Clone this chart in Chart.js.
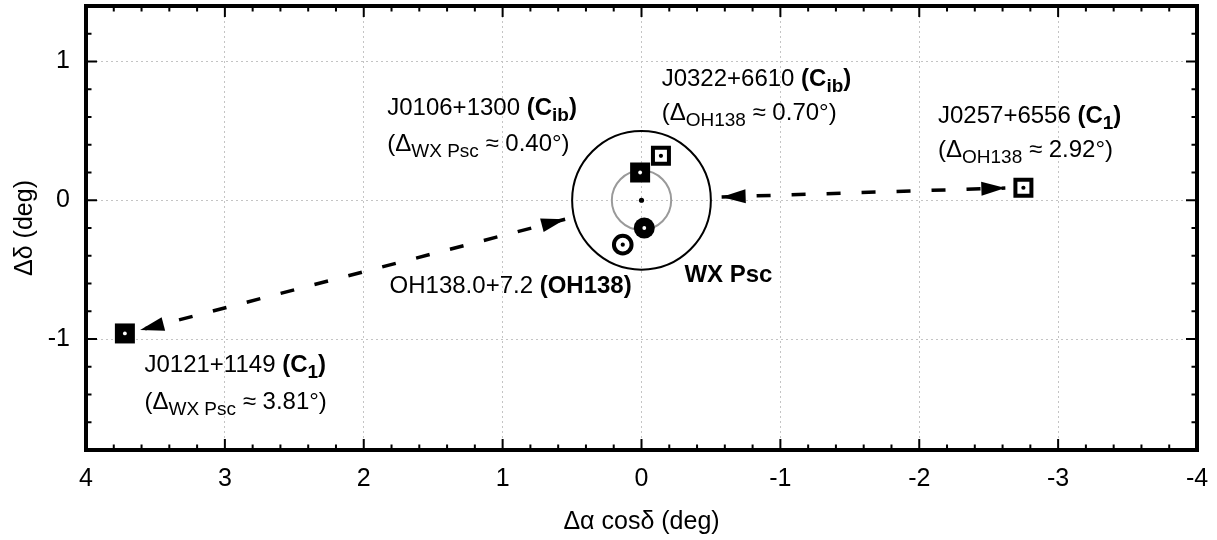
<!DOCTYPE html>
<html>
<head>
<meta charset="utf-8">
<script src="https://cdn.jsdelivr.net/npm/chart.js@4.4.1/dist/chart.umd.min.js"></script>
<style>
  html, body { margin: 0; padding: 0; background: #fff; }
  #wrap { width: 1217px; height: 540px; position: relative; }
</style>
</head>
<body>
<div id="wrap"><canvas id="chart"></canvas></div>
<script>
// ---- axis ticks ----
const xTicks = [4, 3, 2, 1, 0, -1, -2, -3, -4];
const yTicks = [1, 0, -1];

// ---- calibrators (squares) ----
const srcNames = ['J0121+1149', 'J0106+1300', 'J0322+6610', 'J0257+6556'];
const srcX = [3.72, 0.01, -0.14, -2.75];
const srcY = [-0.96, 0.20, 0.32, 0.09];
const srcFilled = [true, true, false, false];

// ---- targets (circles) ----
const tgtNames = ['WX Psc', 'OH138.0+7.2'];
const tgtX = [-0.02, 0.135];
const tgtY = [-0.20, -0.32];
const tgtFilled = [true, false];

// ---- pointing centre and beam circles ----
const centreX = [0];
const centreY = [0];
const circleRadii = [0.5, 0.214];

// ---- double arrows (tip to tip) ----
const arrowFromX = [0.55, -0.577];
const arrowFromY = [-0.137, 0.024];
const arrowToX = [3.61, -2.62];
const arrowToY = [-0.935, 0.088];

const FONT = '"Liberation Sans", Arial, sans-serif';

function pts(xs, ys, keep) {
  return xs.map((x, i) => ({ x, y: ys[i] })).filter((_, i) => keep ? keep(i) : true);
}

// text annotations: each line is a list of [text, style]; b = bold, s = subscript
const notes = [
  { x: 1.831, y: 0.617, segs: [['J0106+1300 ', ''], ['(C', 'b'], ['ib', 'bs'], [')', 'b']] },
  { x: 1.831, y: 0.356, segs: [['(\u0394', ''], ['WX Psc', 's'], [' \u2248 0.40\u00b0)', '']] },
  { x: -0.145, y: 0.827, segs: [['J0322+6610 ', ''], ['(C', 'b'], ['ib', 'bs'], [')', 'b']] },
  { x: -0.145, y: 0.576, segs: [['(\u0394', ''], ['OH138', 's'], [' \u2248 0.70\u00b0)', '']] },
  { x: -2.135, y: 0.556, segs: [['J0257+6556 ', ''], ['(C', 'b'], ['1', 'bs'], [')', 'b']] },
  { x: -2.135, y: 0.312, segs: [['(\u0394', ''], ['OH138', 's'], [' \u2248 2.92\u00b0)', '']] },
  { x: 1.814, y: -0.671, segs: [['OH138.0+7.2 ', ''], ['(OH138)', 'b']] },
  { x: -0.309, y: -0.592, segs: [['WX Psc', 'b']] },
  { x: 3.579, y: -1.235, segs: [['J0121+1149 ', ''], ['(C', 'b'], ['1', 'bs'], [')', 'b']] },
  { x: 3.579, y: -1.504, segs: [['(\u0394', ''], ['WX Psc', 's'], [' \u2248 3.81\u00b0)', '']] },
];

function richText(ctx, x, y, segs) {
  ctx.textAlign = 'left';
  ctx.textBaseline = 'alphabetic';
  segs.forEach(([t, st]) => {
    const bold = st.includes('b'), sub = st.includes('s');
    ctx.font = (bold ? 'bold ' : '') + (sub ? 19 : 24) + 'px ' + FONT;
    ctx.fillText(t, x, y + (sub ? 6 : 0));
    x += ctx.measureText(t).width;
  });
}

function arrowHead(ctx, tx, ty, fx, fy) {
  const a = Math.atan2(ty - fy, tx - fx);
  const L = 24, W = 7;
  const bx = tx - L * Math.cos(a), by = ty - L * Math.sin(a);
  ctx.beginPath();
  ctx.moveTo(tx, ty);
  ctx.lineTo(bx + W * Math.sin(a), by - W * Math.cos(a));
  ctx.lineTo(bx - W * Math.sin(a), by + W * Math.cos(a));
  ctx.closePath();
  ctx.fill();
}

const decor = {
  id: 'decor',
  beforeDatasetsDraw(chart) {
    const { ctx, scales: { x, y } } = chart;
    const cx = x.getPixelForValue(centreX[0]), cy = y.getPixelForValue(centreY[0]);
    const colors = ['#000', '#9a9a9a'];
    ctx.save();
    circleRadii.forEach((r, i) => {
      ctx.beginPath();
      ctx.arc(cx, cy, Math.abs(y.getPixelForValue(r) - cy), 0, 2 * Math.PI);
      ctx.strokeStyle = colors[i];
      ctx.lineWidth = 2;
      ctx.stroke();
    });
    // dashed double arrows
    ctx.strokeStyle = '#000';
    ctx.fillStyle = '#000';
    arrowFromX.forEach((_, i) => {
      const fx = x.getPixelForValue(arrowFromX[i]), fy = y.getPixelForValue(arrowFromY[i]);
      const tx = x.getPixelForValue(arrowToX[i]), ty = y.getPixelForValue(arrowToY[i]);
      ctx.beginPath();
      ctx.setLineDash([14, 21]);
      ctx.lineWidth = 3.5;
      ctx.lineCap = 'butt';
      ctx.moveTo(fx, fy);
      ctx.lineTo(tx, ty);
      ctx.stroke();
      ctx.setLineDash([]);
      arrowHead(ctx, fx, fy, tx, ty);
      arrowHead(ctx, tx, ty, fx, fy);
    });
    ctx.restore();
  },
  afterDatasetsDraw(chart) {
    const { ctx, scales: { x, y } } = chart;
    ctx.save();
    ctx.fillStyle = '#000';
    notes.forEach(n => richText(ctx, x.getPixelForValue(n.x), y.getPixelForValue(n.y), n.segs));
    ctx.restore();
  },
  afterDraw(chart) {
    const { ctx, chartArea: { left, right, top, bottom }, scales: { x, y } } = chart;
    ctx.save();
    ctx.strokeStyle = '#000';
    // inward tick marks on all four sides, minor every 0.2
    ctx.lineWidth = 2;
    ctx.beginPath();
    for (let i = 0; i <= 40; i++) {
      const v = -4 + i * 0.2;
      const len = Math.abs(v - Math.round(v)) < 1e-6 ? 11 : 5.5;
      const p = x.getPixelForValue(v);
      ctx.moveTo(p, bottom); ctx.lineTo(p, bottom - len);
      ctx.moveTo(p, top); ctx.lineTo(p, top + len);
    }
    for (let i = 0; i <= 16; i++) {
      const v = -1.8 + i * 0.2;
      const len = Math.abs(v - Math.round(v)) < 1e-6 ? 11 : 5.5;
      const p = y.getPixelForValue(v);
      ctx.moveTo(left, p); ctx.lineTo(left + len, p);
      ctx.moveTo(right, p); ctx.lineTo(right - len, p);
    }
    ctx.stroke();
    ctx.lineWidth = 4;
    ctx.strokeRect(left, top, right - left, bottom - top);
    ctx.restore();
  }
};

const dotStyle = (color, r) => ({ pointStyle: 'circle', pointRadius: r, backgroundColor: color, borderWidth: 0 });
const noPad = s => { s.paddingTop = 0; s.paddingBottom = 0; s.paddingLeft = 0; s.paddingRight = 0; };

new Chart(document.getElementById('chart'), {
  type: 'scatter',
  data: {
    // first dataset is drawn on top
    datasets: [
      { label: 'centre', data: pts(centreX, centreY), ...dotStyle('#000', 2.6) },
      { label: 'dots white', data: pts(srcX, srcY, i => srcFilled[i]).concat(pts(tgtX, tgtY, i => tgtFilled[i])),
        ...dotStyle('#fff', 1.9) },
      { label: 'dots black', data: pts(srcX, srcY, i => !srcFilled[i]).concat(pts(tgtX, tgtY, i => !tgtFilled[i])),
        ...dotStyle('#000', 2.1) },
      { label: 'calibrators (filled)', data: pts(srcX, srcY, i => srcFilled[i]),
        pointStyle: 'rect', pointRadius: 14.14, backgroundColor: '#000', borderWidth: 0 },
      { label: 'calibrators (open)', data: pts(srcX, srcY, i => !srcFilled[i]),
        pointStyle: 'rect', pointRadius: 11.3, backgroundColor: '#fff', borderColor: '#000', borderWidth: 4 },
      { label: 'targets (filled)', data: pts(tgtX, tgtY, i => tgtFilled[i]),
        pointStyle: 'circle', pointRadius: 10.5, backgroundColor: '#000', borderWidth: 0 },
      { label: 'targets (open)', data: pts(tgtX, tgtY, i => !tgtFilled[i]),
        pointStyle: 'circle', pointRadius: 8.8, backgroundColor: '#fff', borderColor: '#000', borderWidth: 4 },
    ]
  },
  options: {
    responsive: true,
    maintainAspectRatio: false,
    animation: false,
    events: [],
    layout: { autoPadding: false, padding: { top: 6, right: 20, bottom: 0, left: 0 } },
    plugins: { legend: { display: false }, tooltip: { enabled: false } },
    scales: {
      x: {
        type: 'linear', min: -4, max: 4, reverse: true,
        afterBuildTicks: s => { s.ticks = xTicks.map(v => ({ value: v })); },
        afterFit: s => { s.height = 90; noPad(s); },
        grid: { color: '#c4c4c4', lineWidth: 1, drawTicks: false },
        border: { display: false, dash: [2, 3] },
        ticks: { color: '#000', padding: 14, maxRotation: 0, autoSkip: false,
          font: { family: FONT, size: 25, lineHeight: 1.2 } },
        title: { display: true, text: '\u0394\u03b1 cos\u03b4 (deg)', color: '#000',
          font: { family: FONT, size: 25, lineHeight: 1.2 }, padding: { top: 0, bottom: 3 } }
      },
      y: {
        type: 'linear', min: -1.8, max: 1.4,
        afterBuildTicks: s => { s.ticks = yTicks.map(v => ({ value: v })); },
        afterFit: s => { s.width = 86; noPad(s); },
        grid: { color: '#c4c4c4', lineWidth: 1, drawTicks: false },
        border: { display: false, dash: [2, 3] },
        ticks: { color: '#000', padding: 16, autoSkip: false,
          font: { family: FONT, size: 25, lineHeight: 0.4 } },
        title: { display: true, text: '\u0394\u03b4 (deg)', color: '#000',
          font: { family: FONT, size: 25, lineHeight: 1.2 }, padding: { top: 10, bottom: 0 } }
      }
    }
  },
  plugins: [decor]
});
</script>
</body>
</html>
